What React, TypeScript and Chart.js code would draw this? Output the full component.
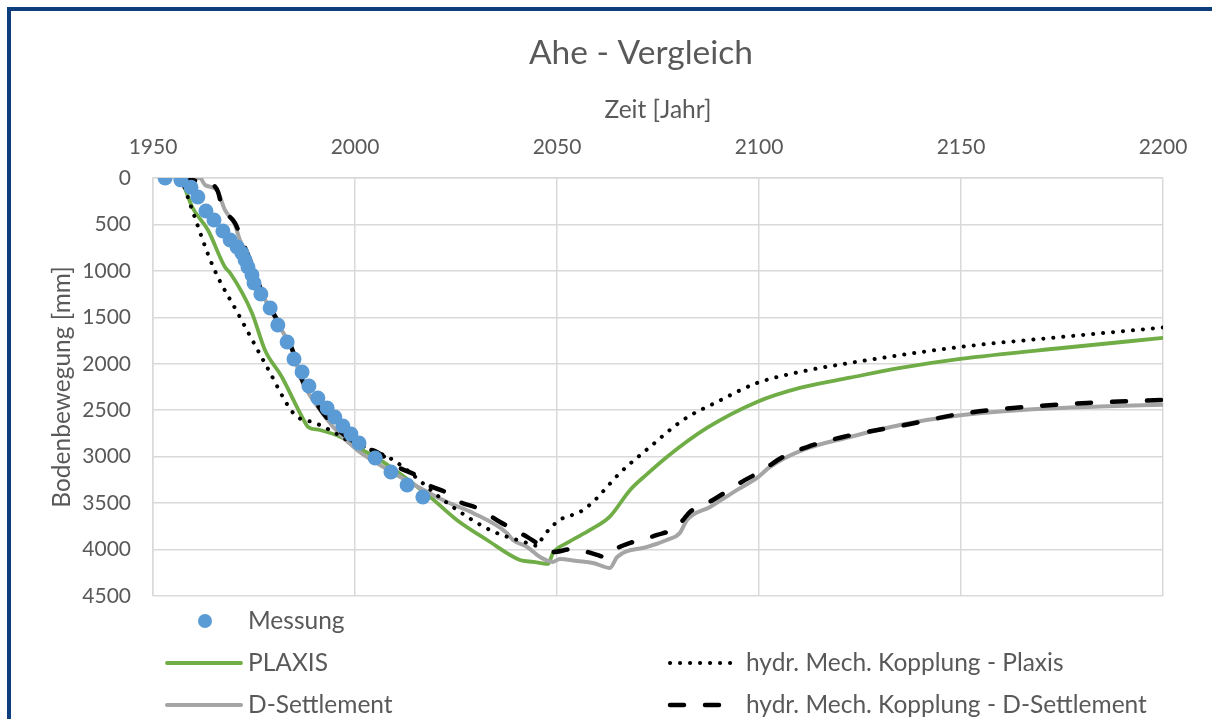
import React, { useEffect, useRef } from "react";
import { Chart, registerables } from "chart.js";

Chart.register(...registerables);

// ---------- data ----------
const chartTitle = "Ahe - Vergleich";
const xAxisTitle = "Zeit [Jahr]";
const yAxisTitle = "Bodenbewegung [mm]";

const xTickMin = 1950;
const xTickMax = 2200;
const xTickStep = 50;
const yTickMin = 0;
const yTickMax = 4500;
const yTickStep = 500;

const seriesLabels = [
  "Messung",
  "PLAXIS",
  "hydr. Mech. Kopplung - Plaxis",
  "D-Settlement",
  "hydr. Mech. Kopplung - D-Settlement",
];

const messungYears = [1953.0, 1956.9, 1959.4, 1961.1, 1963.1, 1965.1, 1967.3, 1969.1, 1970.8, 1972.0, 1972.8, 1973.5, 1974.5, 1975.0, 1976.7, 1979.0, 1980.9, 1983.2, 1984.9, 1986.9, 1988.6, 1990.8, 1993.1, 1995.0, 1997.0, 1999.0, 2001.0, 2005.0, 2008.9, 2012.9, 2016.8];
const messungValues = [0, 20, 100, 205, 355, 452, 570, 667, 743, 807, 883, 958, 1044, 1130, 1249, 1399, 1582, 1765, 1948, 2088, 2239, 2368, 2476, 2573, 2670, 2756, 2853, 3014, 3165, 3305, 3434];

const plaxisYears = [1957, 1959.7, 1963.6, 1967.8, 1969.1, 1974.5, 1977.7, 1981.9, 1986.9, 1988.4, 1991.3, 1997, 2000.5, 2006.2, 2018.6, 2025.2, 2032.7, 2040.8, 2044.1, 2047.8, 2049, 2052.5, 2058.2, 2063, 2068.1, 2072.5, 2077.2, 2087.1, 2099.5, 2110.1, 2122.5, 2135, 2149.8, 2175, 2200];
const plaxisValues = [0, 312, 560, 958, 1023, 1453, 1851, 2142, 2573, 2680, 2713, 2799, 2896, 3035, 3434, 3681, 3897, 4112, 4133, 4155, 4037, 3929, 3789, 3649, 3358, 3180, 3003, 2691, 2411, 2260, 2150, 2045, 1948, 1830, 1722];

const hmkPlaxisYears = [1957, 1959.7, 1964.9, 1971.5, 1978.2, 1984.7, 1987.1, 1989.4, 1993.8, 1998, 2003, 2009.4, 2022.8, 2033.4, 2042.6, 2045.2, 2046.5, 2050.7, 2055.7, 2058.9, 2060.6, 2065.6, 2073, 2081.2, 2089.6, 2099.5, 2110.1, 2122.5, 2149.8, 2175, 2200];
const hmkPlaxisValues = [0, 344, 958, 1496, 2034, 2530, 2605, 2626, 2713, 2820, 2906, 3035, 3498, 3789, 3929, 3960, 3865, 3681, 3595, 3488, 3412, 3175, 2896, 2605, 2411, 2207, 2088, 1991, 1819, 1711, 1610];

const dSettlementYears = [1957, 1961.6, 1962.9, 1965.8, 1967.8, 1970.3, 1971.5, 1973.3, 1977, 1981.4, 1984.7, 1986.4, 1989.6, 1994.6, 2000.5, 2006.2, 2016.1, 2022.8, 2029.2, 2037.6, 2039.1, 2042.6, 2045.8, 2049, 2050.7, 2055, 2058.9, 2063.1, 2064.9, 2072.3, 2077.2, 2080.4, 2082.2, 2087.9, 2094.6, 2099.5, 2102.7, 2110.9, 2122.5, 2134.9, 2149.8, 2167.8, 2184.4, 2200];
const dSettlementValues = [0, 0, 75, 129, 344, 506, 667, 807, 1238, 1604, 1873, 2142, 2390, 2680, 2928, 3089, 3337, 3488, 3606, 3821, 3897, 3972, 4080, 4133, 4101, 4123, 4144, 4198, 4080, 3972, 3897, 3821, 3681, 3541, 3358, 3229, 3111, 2928, 2788, 2659, 2555, 2490, 2460, 2440];

const hmkDSettYears = [1957, 1962.1, 1964.9, 1966.1, 1967.1, 1970.3, 1972, 1974, 1977, 1981.4, 1984.7, 1986.4, 1989.6, 1994.6, 2002.5, 2005.4, 2010.6, 2014.9, 2018.1, 2022.3, 2026, 2030.2, 2035.9, 2042.6, 2045.8, 2049, 2054, 2059.9, 2061.9, 2065, 2068.8, 2074.8, 2079.7, 2081.2, 2082.9, 2088.6, 2095.3, 2101, 2105.9, 2111.9, 2120.8, 2137.4, 2149.8, 2162.9, 2181.2, 2200];
const hmkDSettValues = [0, 43, 75, 151, 312, 484, 667, 883, 1227, 1582, 1873, 2120, 2368, 2659, 2906, 2949, 3111, 3197, 3305, 3380, 3488, 3552, 3703, 3864, 3950, 4026, 3993, 4058, 4080, 3983, 3918, 3843, 3757, 3681, 3595, 3466, 3283, 3143, 3003, 2896, 2788, 2648, 2540, 2476, 2422, 2390];

// ---------- styling ----------
const FONT = "Lato, 'Open Sans', sans-serif";
const TEXT = "#595959";
const GRID = "#d9d9d9";
const TITLE_SIZE = 33.5;
const AXIS_TITLE_SIZE = 24.5;
const TICK_SIZE = 21;
const LEGEND_SIZE = 24.5;

const toPoints = (xs: number[], ys: number[]) => xs.map((x, i) => ({ x, y: ys[i] }));

export default function App() {
  const ref = useRef<HTMLCanvasElement | null>(null);

  useEffect(() => {
    if (!ref.current) return;

    const legendPlugin = {
      id: "customDecor",
      afterDraw(chart: any) {
        const ctx = chart.ctx as CanvasRenderingContext2D;
        const ds = chart.data.datasets;
        ctx.save();
        // title
        ctx.fillStyle = TEXT;
        ctx.font = `${TITLE_SIZE}px ${FONT}`;
        ctx.textAlign = "center";
        ctx.textBaseline = "middle";
        ctx.fillText(chartTitle, 641, 53);

        // legend
        ctx.font = `${LEGEND_SIZE}px ${FONT}`;
        ctx.textAlign = "left";
        const items = [
          { i: 0, x0: 167, x1: 241, tx: 248, y: 621 },
          { i: 1, x0: 167, x1: 241, tx: 248, y: 663 },
          { i: 2, x0: 670, x1: 736, tx: 746, y: 663 },
          { i: 3, x0: 167, x1: 241, tx: 248, y: 705 },
          { i: 4, x0: 670, x1: 726, tx: 746, y: 705 },
        ];
        for (const it of items) {
          const d = ds[it.i];
          if (it.i === 0) {
            ctx.fillStyle = d.backgroundColor;
            ctx.beginPath();
            ctx.arc(205, it.y, 7, 0, Math.PI * 2);
            ctx.fill();
          } else {
            ctx.strokeStyle = d.borderColor;
            ctx.lineWidth = d.borderWidth;
            ctx.lineCap = d.borderCapStyle || "butt";
            ctx.setLineDash(d.borderDash || []);
            ctx.beginPath();
            ctx.moveTo(it.x0, it.y);
            ctx.lineTo(it.x1, it.y);
            ctx.stroke();
            ctx.setLineDash([]);
          }
          ctx.fillStyle = TEXT;
          ctx.fillText(d.label, it.tx, it.y);
        }
        ctx.restore();
      },
    };

    const chart = new Chart(ref.current, {
      type: "line",
      data: {
        datasets: [
          {
            label: seriesLabels[0],
            data: toPoints(messungYears, messungValues),
            showLine: false,
            pointRadius: 7.5,
            pointHoverRadius: 7.5,
            pointBackgroundColor: "#5b9bd5",
            backgroundColor: "#5b9bd5",
            pointBorderWidth: 0,
            borderWidth: 0,
            order: 0,
          },
          {
            label: seriesLabels[1],
            data: toPoints(plaxisYears, plaxisValues),
            borderColor: "#70ad47",
            borderWidth: 3.8,
            pointRadius: 0,
            cubicInterpolationMode: "monotone",
            borderCapStyle: "round",
            order: 4,
          },
          {
            label: seriesLabels[2],
            data: toPoints(hmkPlaxisYears, hmkPlaxisValues),
            borderColor: "#000000",
            borderWidth: 4,
            borderDash: [0.1, 9.9],
            borderCapStyle: "round",
            pointRadius: 0,
            cubicInterpolationMode: "monotone",
            order: 2,
          },
          {
            label: seriesLabels[3],
            data: toPoints(dSettlementYears, dSettlementValues),
            borderColor: "#a5a5a5",
            borderWidth: 4,
            borderCapStyle: "round",
            pointRadius: 0,
            cubicInterpolationMode: "monotone",
            order: 3,
          },
          {
            label: seriesLabels[4],
            data: toPoints(hmkDSettYears, hmkDSettValues),
            borderColor: "#000000",
            borderWidth: 4.5,
            borderDash: [14, 21],
            borderCapStyle: "round",
            pointRadius: 0,
            cubicInterpolationMode: "monotone",
            order: 1,
          },
        ],
      },
      options: {
        responsive: false,
        animation: false,
        events: [],
        layout: { padding: { left: 0, top: 0, right: 49, bottom: 123 } },
        plugins: {
          legend: { display: false },
          title: { display: false },
          tooltip: { enabled: false },
        },
        scales: {
          x: {
            type: "linear",
            position: "top",
            min: xTickMin,
            max: xTickMax,
            afterFit: (s: any) => {
              s.height = 178;
            },
            ticks: {
              stepSize: xTickStep,
              color: TEXT,
              font: { family: FONT, size: TICK_SIZE },
              padding: 18,
              maxRotation: 0,
              callback: (v: any) => String(v),
            },
            grid: { color: GRID, lineWidth: 1.5, drawTicks: false },
            border: { color: GRID, width: 1.5 },
            title: {
              display: true,
              text: xAxisTitle,
              color: TEXT,
              font: { family: FONT, size: AXIS_TITLE_SIZE },
              padding: { top: 95, bottom: 0 },
            },
          },
          y: {
            type: "linear",
            reverse: true,
            min: yTickMin,
            max: yTickMax,
            afterFit: (s: any) => {
              s.width = 153;
            },
            ticks: {
              stepSize: yTickStep,
              color: TEXT,
              font: { family: FONT, size: TICK_SIZE },
              padding: 22,
              callback: (v: any) => String(v),
            },
            grid: { color: GRID, lineWidth: 1.5, drawTicks: false },
            border: { color: GRID, width: 1.5 },
            title: {
              display: true,
              text: yAxisTitle,
              color: TEXT,
              font: { family: FONT, size: AXIS_TITLE_SIZE },
              padding: { top: 47, bottom: 0 },
            },
          },
        },
      },
      plugins: [legendPlugin],
    } as any);

    return () => chart.destroy();
  }, []);

  return (
    <div style={{ position: "fixed", left: 0, top: 0, width: 1212, height: 719, background: "#fff", overflow: "hidden" }}>
      <canvas ref={ref} width={1212} height={719} style={{ position: "absolute", left: 0, top: 0, width: 1212, height: 719 }} />
      <div
        style={{
          position: "absolute",
          left: 7,
          top: 7,
          width: 1230,
          height: 730,
          borderTop: "4px solid #0e3f7c",
          borderLeft: "4px solid #0e3f7c",
          pointerEvents: "none",
        }}
      />
    </div>
  );
}
